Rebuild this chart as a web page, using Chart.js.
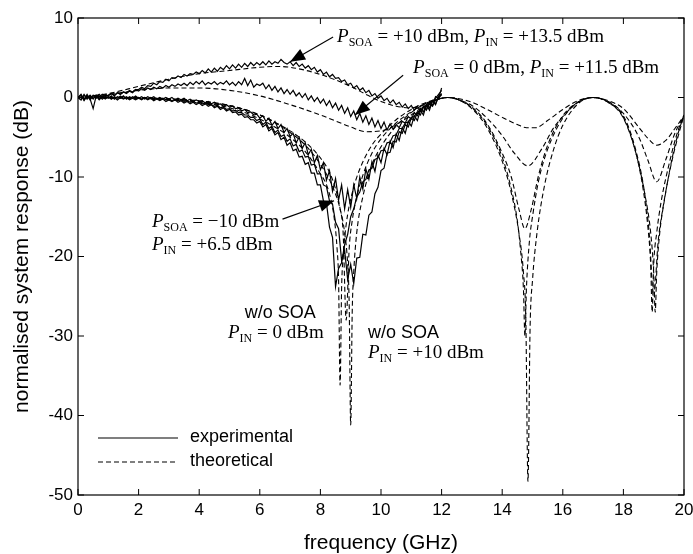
<!DOCTYPE html>
<html><head><meta charset="utf-8">
<script src="https://cdn.jsdelivr.net/npm/chart.js@4.4.1/dist/chart.umd.min.js"></script>
<style>html,body{margin:0;padding:0;background:#fff}#wrap{width:693px;height:554px}</style>
</head><body><div id="wrap"><canvas id="c" width="693" height="554"></canvas></div>
<script>
// ---------- tick labels ----------
const xTicks = [0,2,4,6,8,10,12,14,16,18,20];
const yTicks = [-50,-40,-30,-20,-10,0,10];

// ---------- experimental (solid), frequency in GHz ----------
const fExp = [0,0.1,0.2,0.3,0.4,0.5,0.6,0.7,0.8,0.9,
1,1.1,1.2,1.3,1.4,1.5,1.6,1.7,1.8,1.9,
2,2.1,2.2,2.3,2.4,2.5,2.6,2.7,2.8,2.9,
3,3.1,3.2,3.3,3.4,3.5,3.6,3.7,3.8,3.9,
4,4.1,4.2,4.3,4.4,4.5,4.6,4.7,4.8,4.9,
5,5.1,5.2,5.3,5.4,5.5,5.6,5.7,5.8,5.9,
6,6.1,6.2,6.3,6.4,6.5,6.6,6.7,6.8,6.9,
7,7.1,7.2,7.3,7.4,7.5,7.6,7.7,7.8,7.9,
8,8.1,8.2,8.3,8.4,8.5,8.6,8.7,8.8,8.9,
9,9.1,9.2,9.3,9.4,9.5,9.6,9.7,9.8,9.9,
10,10.1,10.2,10.3,10.4,10.5,10.6,10.7,10.8,10.9,
11,11.1,11.2,11.3,11.4,11.5,11.6,11.7,11.8,11.9,
12];
// P_SOA = +10 dBm, P_IN = +13.5 dBm
const expSoaP10 = [0.0,0.3,-0.2,0.4,-0.3,0.2,0.1,0.4,0.0,0.3,
0.2,0.5,0.3,0.6,0.4,0.7,0.6,0.9,0.7,1.0,
1.0,1.3,1.1,1.5,1.4,1.8,1.6,2.0,1.9,2.3,
2.1,2.5,2.4,2.7,2.5,2.9,2.7,3.0,2.9,3.2,
3.0,3.4,3.1,3.6,3.2,3.7,3.3,3.8,3.5,4.0,
3.6,4.1,3.7,4.2,3.8,4.3,3.9,4.4,4.0,4.4,
4.1,4.5,4.1,4.6,4.2,4.5,4.3,4.8,4.4,4.2,
4.5,4.0,4.4,3.9,4.2,3.7,4.0,3.5,3.8,3.2,
3.5,2.9,3.2,2.6,2.9,2.4,2.5,2.0,2.2,1.6,
1.8,1.2,1.5,0.9,1.2,0.6,0.9,0.2,0.5,-0.1,
0.2,-0.4,-0.1,-0.7,-0.3,-0.9,-0.6,-1.2,-0.8,-1.4,
-1.0,-1.6,-1.1,-1.7,-1.2,-1.5,-0.8,-1.1,-0.3,-0.2,
0.5];
// P_SOA = 0 dBm, P_IN = +11.5 dBm
const expSoa0 = [0.0,-0.3,0.3,-0.1,0.2,-0.2,0.3,0.0,0.4,0.1,
0.3,0.5,0.2,0.6,0.4,0.7,0.5,0.8,0.6,1.0,
0.8,1.1,0.9,1.2,1.0,1.3,1.1,1.4,1.2,1.5,
1.3,1.6,1.4,1.7,1.5,1.8,1.5,1.9,1.6,2.0,
1.7,2.1,1.6,1.9,1.7,2.0,1.6,1.9,1.7,2.1,
1.6,1.9,1.5,2.0,1.6,2.4,1.5,2.2,1.3,1.7,
1.5,1.8,1.1,1.6,0.9,1.4,0.7,1.2,0.5,1.0,
0.4,0.9,0.2,0.6,0.0,0.5,-0.3,0.2,-0.5,0.0,
-0.7,-0.2,-1.0,-0.4,-1.3,-0.7,-1.6,-1.0,-2.0,-1.3,
-2.4,-1.7,-2.8,-2.0,-3.1,-2.3,-3.4,-2.6,-3.7,-2.9,
-3.9,-3.1,-4.1,-3.3,-4.0,-3.4,-3.8,-3.0,-3.2,-2.4,
-2.7,-1.9,-2.3,-1.4,-1.8,-0.9,-1.3,-0.4,-0.8,0.1,
0.3];
// P_SOA = -10 dBm, P_IN = +6.5 dBm
const expSoaM10 = [0.0,0.4,-0.3,0.2,-0.2,0.3,-0.1,0.2,-0.2,0.1,
-0.1,0.2,-0.2,0.1,-0.1,0.2,-0.2,0.1,-0.1,0.2,
-0.1,0.1,-0.2,0.1,-0.1,0.1,-0.2,0.0,-0.2,0.0,
-0.2,0.0,-0.3,-0.1,-0.3,-0.1,-0.4,-0.2,-0.5,-0.3,
-0.5,-0.4,-0.7,-0.5,-0.8,-0.6,-0.9,-0.8,-1.1,-0.9,
-1.2,-1.1,-1.4,-1.3,-1.7,-1.5,-1.9,-1.8,-2.2,-2.1,
-2.6,-2.3,-3.0,-2.6,-3.5,-3.0,-3.9,-3.4,-4.4,-3.9,
-4.9,-4.5,-5.7,-5.0,-6.4,-5.7,-7.2,-6.5,-8.2,-7.3,
-9.1,-8.2,-10.4,-9.2,-11.8,-10.2,-12.9,-11.0,-14.0,-11.6,
-13.8,-11.0,-12.7,-10.0,-11.5,-9.0,-10.3,-8.1,-9.3,-7.2,
-8.2,-6.4,-7.2,-5.5,-6.3,-4.6,-5.4,-3.8,-4.5,-3.0,
-3.6,-2.3,-2.9,-1.6,-2.2,-0.9,-1.6,-0.4,-0.9,0.2,
0.4];
// w/o SOA, P_IN = 0 dBm
const expNoSoaIn0 = [0.0,0.3,-0.4,0.2,-0.2,-1.4,0.2,-0.3,0.1,-0.2,
0.1,-0.2,0.0,-0.3,0.0,-0.2,0.0,-0.3,-0.1,-0.3,
-0.1,-0.3,0.0,-0.3,-0.1,-0.4,-0.2,-0.4,-0.2,-0.5,
-0.3,-0.5,-0.3,-0.6,-0.4,-0.7,-0.5,-0.8,-0.6,-0.9,
-0.7,-1.0,-0.8,-1.1,-0.9,-1.3,-1.1,-1.5,-1.3,-1.7,
-1.5,-1.9,-1.8,-2.2,-2.1,-2.5,-2.4,-2.8,-2.8,-3.2,
-3.0,-3.7,-3.4,-4.2,-3.9,-4.7,-4.4,-5.3,-5.0,-6.0,
-5.7,-6.7,-6.5,-7.5,-7.4,-8.4,-8.2,-9.5,-9.5,-11.0,
-11.0,-13.0,-13.3,-16.3,-17.6,-23.8,-21.5,-20.8,-18.5,-17.2,
-15.0,-14.0,-12.5,-11.9,-10.6,-10.3,-9.1,-8.9,-7.8,-7.6,
-6.7,-6.6,-5.7,-5.6,-4.8,-4.7,-3.9,-3.9,-3.2,-3.1,
-2.5,-2.4,-1.8,-1.7,-1.1,-1.2,-0.6,-0.5,-0.1,0.4,
0.9];
// w/o SOA, P_IN = +10 dBm
const expNoSoaIn10 = [0.0,-0.3,0.4,-0.2,0.3,-0.1,0.2,-0.2,0.2,-0.1,
0.1,-0.2,0.1,-0.1,0.2,-0.1,0.1,-0.2,0.1,-0.1,
0.0,-0.2,0.0,-0.2,0.0,-0.3,-0.1,-0.3,-0.1,-0.3,
-0.2,-0.4,-0.2,-0.4,-0.3,-0.5,-0.4,-0.6,-0.5,-0.7,
-0.6,-0.8,-0.7,-0.9,-0.9,-1.1,-1.0,-1.3,-1.2,-1.5,
-1.4,-1.7,-1.6,-1.9,-1.9,-2.2,-2.2,-2.5,-2.5,-2.9,
-2.7,-3.4,-3.1,-3.9,-3.6,-4.4,-4.1,-4.9,-4.7,-5.5,
-5.2,-6.1,-5.9,-6.8,-6.6,-7.5,-7.4,-8.5,-8.4,-9.6,
-9.6,-11.0,-11.2,-13.0,-13.4,-15.7,-16.5,-20.5,-19.2,-22.9,
-21.0,-23.4,-20.2,-20.1,-17.2,-17.3,-14.8,-14.4,-12.1,-11.3,
-9.2,-8.9,-7.0,-6.9,-5.5,-5.6,-4.3,-4.5,-3.4,-3.7,
-2.6,-2.9,-1.9,-2.2,-1.2,-1.6,-0.6,-1.0,0.1,-0.1,
1.2];

// ---------- theoretical (dashed) ----------
const fThSoaP10 = [0,1,2,3,4,5,6,6.5,7,8,9,9.5,10,10.5,11,11.5,12,12.2,12.5,13,13.5,14,14.5,14.8,15.1,15.5,16,16.5,17,17.5,18,18.5,18.8,19.1,19.4,19.7,20];
const thSoaP10  = [0,0.5,1.4,2.3,3.0,3.4,3.8,3.9,3.8,2.9,1.4,0.4,-0.5,-1.1,-1.3,-0.8,-0.1,0,-0.1,-0.6,-1.5,-2.5,-3.4,-3.8,-3.8,-2.9,-1.5,-0.4,0,-0.4,-1.4,-3.7,-5.1,-6.0,-5.4,-3.9,-2.3];

const fThSoa0 = [0,1,2,3,4,5,6,7,8,9,9.5,10,10.5,11,11.5,12,12.2,12.5,13,13.5,14,14.4,14.85,15.3,15.7,16,16.5,17,17.5,18,18.5,18.8,19.1,19.4,19.7,20];
const thSoa0  = [0,0.4,0.9,1.2,1.2,0.9,0.2,-0.9,-2.2,-3.7,-4.3,-4.2,-3.4,-2.2,-0.9,-0.1,0,-0.2,-1.0,-2.6,-4.8,-7.0,-8.6,-6.5,-3.8,-2.4,-0.6,0,-0.5,-2.0,-4.9,-7.8,-10.6,-7.8,-4.5,-2.3];

const fThSoaM10 = [0,1,2,3,4,5,6,7,7.5,8,8.3,8.5,8.65,8.75,8.85,8.95,9.05,9.2,9.4,9.7,10,10.5,11,11.5,12,12.2,12.5,13,13.5,14,14.3,14.55,14.75,14.95,15.2,15.5,16,16.5,17,17.5,18,18.4,18.7,18.85,19,19.15,19.3,19.6,20];
const thSoaM10  = [0,0,-0.1,-0.2,-0.5,-1.0,-2.2,-4.2,-5.6,-7.6,-9.4,-11.5,-14,-17,-28,-19,-15.5,-12.5,-9.8,-7,-5.2,-3.2,-1.8,-0.7,-0.1,0,-0.2,-1.2,-3.3,-7.0,-10.0,-14.0,-16.5,-14.2,-9.8,-6.0,-2.3,-0.6,0,-0.6,-2.3,-6.5,-12,-17,-25,-18,-14,-8,-2.2];

const fThNoSoaIn0 = [0,1,2,3,4,5,6,7,7.5,8,8.25,8.45,8.55,8.6,8.65,8.7,8.75,8.85,9.05,9.3,9.7,10,10.5,11,11.5,12,12.2,12.5,13,13.5,14,14.3,14.5,14.6,14.7,14.75,14.8,14.9,15,15.2,15.5,16,16.5,17,17.5,18,18.4,18.65,18.8,18.9,18.95,19,19.1,19.25,19.5,19.75,20];
const thNoSoaIn0  = [0,0,-0.1,-0.3,-0.6,-1.3,-2.7,-5.0,-6.8,-9.6,-11.5,-15,-19,-23,-36.2,-24,-20,-16,-12,-9,-6,-4.6,-2.8,-1.5,-0.6,-0.1,0,-0.2,-1.3,-3.5,-7.5,-11.5,-15.5,-19,-24,-30,-24,-18,-15,-10.5,-6.5,-2.6,-0.6,0,-0.6,-2.5,-6.8,-11.5,-16,-21,-27,-21,-17,-13,-8.5,-4.8,-2.2];

const fThNoSoaIn10 = [0,1,2,3,4,5,6,7,7.5,8,8.4,8.65,8.8,8.9,8.95,9.0,9.05,9.1,9.2,9.4,9.7,10,10.5,11,11.5,12,12.2,12.5,13,13.5,14,14.3,14.55,14.7,14.78,14.85,14.92,15,15.15,15.4,15.7,16,16.5,17,17.5,18,18.4,18.7,18.9,19,19.05,19.1,19.2,19.35,19.6,19.8,20];
const thNoSoaIn10  = [0,0,0,-0.2,-0.4,-1.0,-2.2,-4.4,-6.0,-8.4,-11.2,-14,-17,-21,-26,-41.2,-27,-22,-17,-12.5,-8.5,-6.2,-3.6,-1.9,-0.7,-0.1,0,-0.2,-1.4,-3.8,-8.0,-12,-17,-22,-28,-48.3,-29,-23,-17,-11,-6.5,-3.5,-0.8,0,-0.6,-2.6,-6.8,-12,-17,-22,-27,-22,-17,-13,-7.8,-4.6,-2.2];

// ---------- helpers ----------
const SANS = "'Liberation Sans', Arial, Helvetica, sans-serif";
const SERIF = "'Liberation Serif', 'Times New Roman', serif";
const DASH = [5, 3];
const pts = (xs, ys) => xs.map((x, i) => ({x: x, y: ys[i]}));
const solid = (xs, ys) => ({data: pts(xs, ys), borderColor: '#000', borderWidth: 1.2, pointRadius: 0, tension: 0, fill: false});
const dashed = (xs, ys) => ({data: pts(xs, ys), borderColor: '#000', borderWidth: 1.1, borderDash: DASH, pointRadius: 0, cubicInterpolationMode: 'monotone', fill: false});

const datasets = [
  dashed(fThSoaP10, thSoaP10),
  dashed(fThSoa0, thSoa0),
  dashed(fThSoaM10, thSoaM10),
  dashed(fThNoSoaIn0, thNoSoaIn0),
  dashed(fThNoSoaIn10, thNoSoaIn10),
  solid(fExp, expSoaP10),
  solid(fExp, expSoa0),
  solid(fExp, expSoaM10),
  solid(fExp, expNoSoaIn0),
  solid(fExp, expNoSoaIn10)
];

// rich text: array of [text, font, dy]
function rich(ctx, x, y, parts) {
  ctx.textAlign = 'left'; ctx.textBaseline = 'alphabetic'; ctx.fillStyle = '#000';
  let cx = x;
  for (const [t, f, dy] of parts) { ctx.font = f; ctx.fillText(t, cx, y + (dy || 0)); cx += ctx.measureText(t).width; }
}
const PI_ = 'italic 19px ' + SERIF, RM = '19px ' + SERIF, SUB = '12px ' + SERIF;
function arrow(ctx, x1, y1, x2, y2) {
  ctx.strokeStyle = '#000'; ctx.fillStyle = '#000'; ctx.lineWidth = 1.1; ctx.setLineDash([]);
  ctx.beginPath(); ctx.moveTo(x1, y1); ctx.lineTo(x2, y2); ctx.stroke();
  const a = Math.atan2(y2 - y1, x2 - x1), L = 15, W = 6;
  const bx = x2 - L * Math.cos(a), by = y2 - L * Math.sin(a);
  ctx.beginPath(); ctx.moveTo(x2, y2);
  ctx.lineTo(bx + W * Math.sin(a), by - W * Math.cos(a));
  ctx.lineTo(bx - W * Math.sin(a), by + W * Math.cos(a));
  ctx.closePath(); ctx.fill();
}

const decor = {
  id: 'decor',
  afterDraw(chart) {
    const {ctx, chartArea: ca, scales: {x, y}} = chart;
    const X = v => x.getPixelForValue(v), Y = v => y.getPixelForValue(v);
    ctx.save();
    // frame + inward ticks
    ctx.strokeStyle = '#000'; ctx.lineWidth = 1.2; ctx.setLineDash([]);
    ctx.strokeRect(ca.left, ca.top, ca.right - ca.left, ca.bottom - ca.top);
    ctx.lineWidth = 1; ctx.beginPath();
    const T = 6;
    xTicks.forEach(v => { const px = X(v); ctx.moveTo(px, ca.bottom); ctx.lineTo(px, ca.bottom - T); ctx.moveTo(px, ca.top); ctx.lineTo(px, ca.top + T); });
    yTicks.forEach(v => { const py = Y(v); ctx.moveTo(ca.left, py); ctx.lineTo(ca.left + T, py); ctx.moveTo(ca.right, py); ctx.lineTo(ca.right - T, py); });
    ctx.stroke();

    // annotations
    rich(ctx, X(8.55), Y(7.0), [['P', PI_], ['SOA', SUB, 4], [' = +10 dBm, ', RM], ['P', PI_], ['IN', SUB, 4], [' = +13.5 dBm', RM]]);
    rich(ctx, X(11.06), Y(3.1), [['P', PI_], ['SOA', SUB, 4], [' = 0 dBm, ', RM], ['P', PI_], ['IN', SUB, 4], [' = +11.5 dBm', RM]]);
    rich(ctx, X(2.44), Y(-16.3), [['P', PI_], ['SOA', SUB, 4], [' = \u221210 dBm', RM]]);
    rich(ctx, X(2.44), Y(-19.2), [['P', PI_], ['IN', SUB, 4], [' = +6.5 dBm', RM]]);
    ctx.font = '18px ' + SANS; ctx.textAlign = 'left'; ctx.textBaseline = 'alphabetic';
    ctx.fillText('w/o SOA', X(5.5), Y(-27.7));
    rich(ctx, X(4.95), Y(-30.25), [['P', PI_], ['IN', SUB, 4], [' = 0 dBm', RM]]);
    ctx.font = '18px ' + SANS;
    ctx.fillText('w/o SOA', X(9.57), Y(-30.25));
    rich(ctx, X(9.57), Y(-32.8), [['P', PI_], ['IN', SUB, 4], [' = +10 dBm', RM]]);

    arrow(ctx, X(8.42), Y(7.6), X(7.0), Y(4.5));
    arrow(ctx, X(10.73), Y(2.8), X(9.14), Y(-2.2));
    arrow(ctx, X(6.75), Y(-15.3), X(8.45), Y(-13.0));

    // legend
    const lx = ca.left + 20, ly1 = ca.bottom - 57, ly2 = ca.bottom - 33;
    ctx.lineWidth = 1.1;
    ctx.setLineDash([]); ctx.beginPath(); ctx.moveTo(lx, ly1); ctx.lineTo(lx + 80, ly1); ctx.stroke();
    ctx.setLineDash(DASH); ctx.beginPath(); ctx.moveTo(lx, ly2); ctx.lineTo(lx + 78, ly2); ctx.stroke();
    ctx.setLineDash([]);
    ctx.font = '18px ' + SANS; ctx.fillStyle = '#000'; ctx.textBaseline = 'middle';
    ctx.fillText('experimental', lx + 92, ly1 - 1);
    ctx.fillText('theoretical', lx + 92, ly2 - 1);
    ctx.restore();
  }
};

new Chart(document.getElementById('c'), {
  type: 'line',
  data: {datasets},
  options: {
    responsive: false, animation: false, devicePixelRatio: 1,
    layout: {padding: {top: 18, right: 9, left: 0, bottom: 0}},
    plugins: {legend: {display: false}, tooltip: {enabled: false}},
    elements: {point: {radius: 0}},
    scales: {
      x: {
        type: 'linear', min: 0, max: 20,
        afterBuildTicks: s => { s.ticks = xTicks.map(v => ({value: v})); },
        ticks: {color: '#000', font: {family: SANS, size: 17}, padding: 5, maxRotation: 0, autoSkip: false},
        grid: {display: false, drawTicks: false}, border: {display: false},
        title: {display: true, text: 'frequency (GHz)', color: '#000', font: {family: SANS, size: 21, lineHeight: 1}, padding: {top: 0, bottom: 0}},
        afterFit: s => { s.height = 59; s.paddingLeft = 0; s.paddingRight = 0; }
      },
      y: {
        type: 'linear', min: -50, max: 10,
        afterBuildTicks: s => { s.ticks = yTicks.map(v => ({value: v})); },
        ticks: {color: '#000', font: {family: SANS, size: 17}, padding: 5},
        grid: {display: false, drawTicks: false}, border: {display: false},
        title: {display: true, text: 'normalised system response (dB)', color: '#000', font: {family: SANS, size: 21}, padding: {top: 10, bottom: 0}},
        afterFit: s => { s.width = 78; s.paddingTop = 0; s.paddingBottom = 0; }
      }
    }
  },
  plugins: [decor]
});
</script></body></html>
